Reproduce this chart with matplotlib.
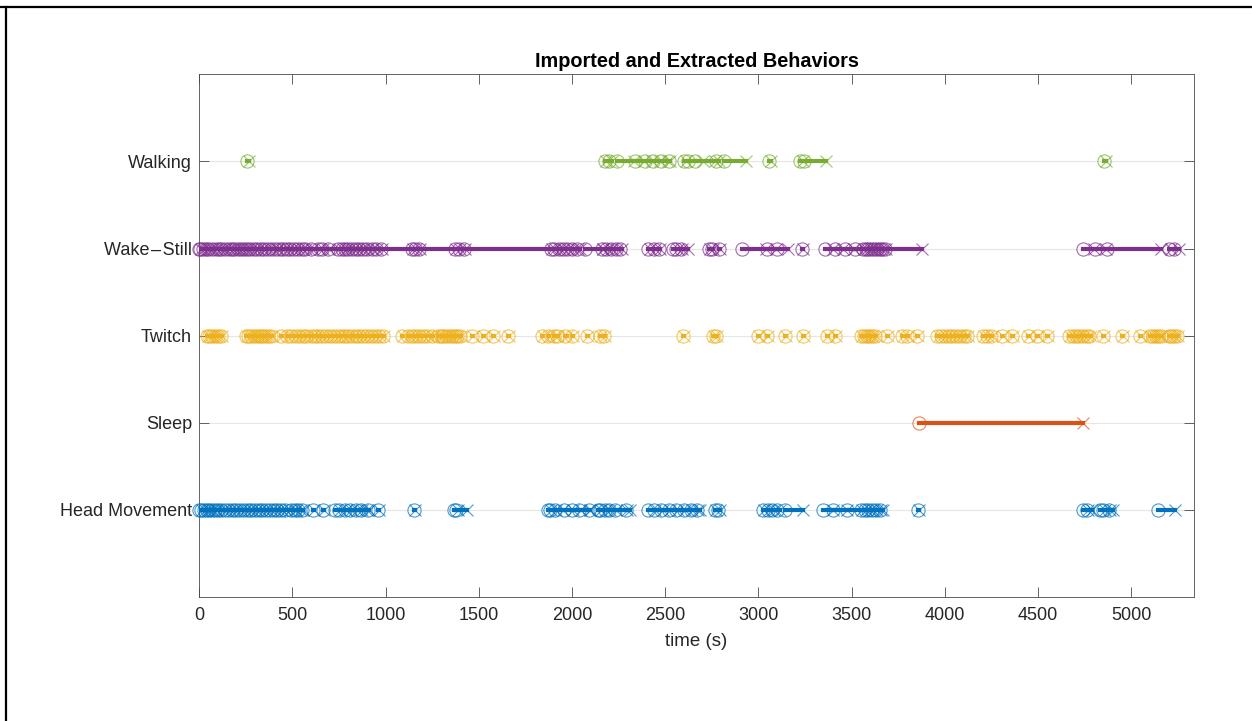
#!/usr/bin/env python3
"""Imported and extracted behaviors: bout raster (start = o, end = x)."""

import matplotlib
matplotlib.use("Agg")
import matplotlib.pyplot as plt
from matplotlib.lines import Line2D

plt.rcParams["font.family"] = ["Liberation Sans", "DejaVu Sans"]

behaviors = ["Head Movement", "Sleep", "Twitch", "Wake\u200a\u2013\u200aStill", "Walking"]
colors = ["#0072BD", "#D95319", "#EDB120", "#7E2F8E", "#77AC30"]
xticks = [0, 500, 1000, 1500, 2000, 2500, 3000, 3500, 4000, 4500, 5000]

# (start, end) of each bout, seconds
head_bouts = [
    (0, 97), (10, 16), (25, 31), (40, 46), (55, 61), (70, 76), (85, 91),
    (100, 488), (120, 126), (140, 146), (160, 166), (180, 186), (200, 206),
    (220, 226), (240, 246), (260, 266), (280, 286), (300, 306), (320, 326),
    (340, 346), (360, 366), (380, 386), (400, 406), (420, 426), (440, 446),
    (460, 466), (495, 520), (515, 521), (530, 545), (550, 558),
    (611, 617), (665, 671),
    (729, 901), (750, 756), (780, 786), (810, 816), (840, 846), (870, 876),
    (906, 912), (960, 966),
    (1153, 1159), (1365, 1437), (1380, 1386),
    (1871, 1950), (1880, 1886), (1910, 1916), (1955, 2097), (2000, 2006),
    (2040, 2046), (2090, 2096),
    (2139, 2311), (2150, 2156), (2175, 2181), (2200, 2206), (2230, 2236),
    (2290, 2296),
    (2408, 2686), (2440, 2446), (2480, 2486), (2520, 2526), (2560, 2566),
    (2600, 2606), (2640, 2646), (2670, 2676),
    (2765, 2771), (2785, 2795),
    (3025, 3031), (3050, 3056), (3075, 3081), (3100, 3115), (3142, 3239),
    (3346, 3400), (3400, 3475), (3475, 3668), (3550, 3556), (3570, 3576),
    (3590, 3596), (3610, 3616), (3630, 3636), (3650, 3656),
    (3855, 3861),
    (4740, 4790), (4760, 4766), (4831, 4901), (4850, 4856), (4880, 4886),
    (5142, 5233),
]

sleep_bouts = [(3861, 4740)]

twitch_bouts = [
    (40, 46), (55, 61), (70, 76), (85, 91), (100, 106), (115, 121),
    (250, 256), (265, 271), (280, 286), (295, 301), (310, 316), (325, 331),
    (340, 346), (355, 361), (370, 376), (385, 391),
    (440, 446), (470, 476), (495, 501), (515, 521), (535, 541), (555, 561),
    (575, 581), (600, 606), (620, 626), (640, 646), (660, 666), (680, 686),
    (700, 706), (725, 731), (745, 751), (765, 771), (785, 791), (800, 806),
    (820, 826), (840, 846), (860, 866), (880, 886), (900, 906), (920, 926),
    (945, 951), (965, 971), (985, 991),
    (1089, 1095), (1120, 1126), (1140, 1146), (1160, 1166), (1180, 1186),
    (1200, 1206), (1220, 1226), (1249, 1255),
    (1280, 1286), (1295, 1301), (1310, 1316), (1325, 1331), (1340, 1346),
    (1355, 1361), (1370, 1376), (1385, 1391), (1400, 1406),
    (1464, 1470), (1523, 1529), (1576, 1582), (1657, 1663),
    (1840, 1846), (1870, 1876), (1905, 1911), (1920, 1926), (1965, 1971),
    (2000, 2006), (2080, 2086), (2150, 2156), (2170, 2176),
    (2595, 2601), (2755, 2761), (2770, 2776),
    (2998, 3004), (3045, 3051), (3142, 3148), (3238, 3244), (3367, 3373),
    (3410, 3416),
    (3550, 3556), (3565, 3571), (3580, 3586), (3595, 3601), (3610, 3616),
    (3625, 3631), (3689, 3695), (3769, 3775), (3796, 3802), (3850, 3856),
    (3960, 3966), (3980, 3986), (4000, 4006), (4020, 4026), (4040, 4046),
    (4060, 4066), (4080, 4086), (4100, 4106), (4118, 4124),
    (4205, 4211), (4225, 4231), (4245, 4251), (4305, 4311), (4359, 4365),
    (4445, 4451), (4493, 4499), (4547, 4553),
    (4665, 4671), (4685, 4691), (4705, 4711), (4720, 4726), (4740, 4746),
    (4760, 4766), (4775, 4781), (4847, 4853), (4949, 4955), (5046, 5052),
    (5100, 5106), (5115, 5121), (5130, 5136), (5145, 5151), (5160, 5166),
    (5200, 5206), (5215, 5221), (5230, 5236), (5245, 5251),
]

wake_bouts = [
    (0, 425), (435, 2043), (2070, 2167), (2540, 2622), (2910, 3040),
    (3045, 3095), (3099, 3159), (3357, 3400), (3410, 3455), (3464, 3510),
    (3517, 3877), (4740, 4800), (4805, 4865), (4869, 5160),
    (5, 11), (20, 26), (35, 41), (50, 56), (70, 76), (90, 96), (105, 111),
    (120, 126), (140, 146), (160, 166), (175, 181), (190, 196), (210, 216),
    (225, 231), (240, 246), (255, 261), (275, 281), (295, 301), (310, 316),
    (330, 336), (350, 356), (370, 376), (390, 396), (410, 416),
    (450, 456), (470, 476), (490, 496), (510, 516), (530, 536), (550, 556),
    (570, 576), (600, 606), (640, 646), (660, 666), (690, 696),
    (745, 751), (765, 771), (780, 786), (800, 806), (820, 826), (840, 846),
    (860, 866), (880, 886), (900, 906), (925, 931), (950, 956), (975, 981),
    (1140, 1146), (1160, 1166), (1180, 1186), (1370, 1376), (1395, 1401),
    (1420, 1426),
    (1885, 1891), (1905, 1911), (1930, 1936), (1950, 1956), (1975, 1981),
    (2000, 2006), (2025, 2031),
    (2160, 2166), (2185, 2191), (2210, 2216), (2235, 2241), (2260, 2266),
    (2410, 2416), (2440, 2446), (2465, 2471), (2560, 2566), (2585, 2591),
    (2735, 2741), (2750, 2756), (2790, 2796), (3232, 3238),
    (3561, 3567), (3575, 3581), (3590, 3596), (3605, 3611), (3620, 3626),
    (3635, 3641), (3650, 3656), (3665, 3671), (3678, 3684),
    (5200, 5215), (5230, 5255),
]

walking_bouts = [
    (258, 270), (2175, 2185), (2200, 2215), (2241, 2330), (2340, 2385),
    (2392, 2430), (2434, 2470), (2477, 2515), (2520, 2528), (2600, 2610),
    (2620, 2700), (2660, 2765), (2772, 2790), (2815, 2933), (3058, 3068),
    (3225, 3240), (3245, 3362), (4853, 4863),
]

all_bouts = [head_bouts, sleep_bouts, twitch_bouts, wake_bouts, walking_bouts]


def main():
    fig = plt.figure(figsize=(12.52, 7.21), dpi=100)
    ax = fig.add_axes([0.159, 0.172, 0.7947, 0.725])

    for y, (bouts, c) in enumerate(zip(all_bouts, colors), start=1):
        for s, e in bouts:
            ax.plot([s, e], [y, y], color=c, lw=3.0,
                    solid_capstyle="projecting", zorder=3)
        starts = [s for s, _ in bouts]
        ends = [e for _, e in bouts]
        ax.plot(starts, [y] * len(starts), "o", mfc="none", mec=c,
                ms=9.5, mew=0.8, alpha=0.7, zorder=4, clip_on=False)
        ax.plot(ends, [y] * len(ends), "x", color=c,
                ms=8.5, mew=0.8, alpha=0.7, zorder=4, clip_on=False)

    ax.set_xlim(0, 5336)
    ax.set_ylim(0, 6)
    ax.set_xticks(xticks)
    ax.set_yticks(range(1, len(behaviors) + 1))
    ax.set_yticklabels(behaviors)

    ax.yaxis.grid(True, color="#e6e6e6", lw=0.8)
    ax.set_axisbelow(True)
    for sp in ax.spines.values():
        sp.set_color("#4a4a4a")
        sp.set_linewidth(0.6)
    ax.tick_params(direction="in", top=True, right=True, length=7,
                   width=0.6, color="#4a4a4a", labelsize=13,
                   labelcolor="#262626")
    ax.tick_params(axis="x", pad=7)
    ax.tick_params(axis="y", pad=5)

    ax.set_xlabel("time (s)", fontsize=13.5, color="#262626", labelpad=7)
    ax.set_title("Imported and Extracted Behaviors", fontsize=14.3,
                 fontweight="bold", pad=5)

    # screenshot frame lines
    fig.add_artist(Line2D([0, 1], [0.990, 0.990], transform=fig.transFigure,
                          color="black", lw=1.6))
    fig.add_artist(Line2D([0.005, 0.005], [0, 0.990], transform=fig.transFigure,
                          color="black", lw=1.6))

    fig.savefig("out.png", dpi=100)
    plt.close(fig)


if __name__ == "__main__":
    main()
